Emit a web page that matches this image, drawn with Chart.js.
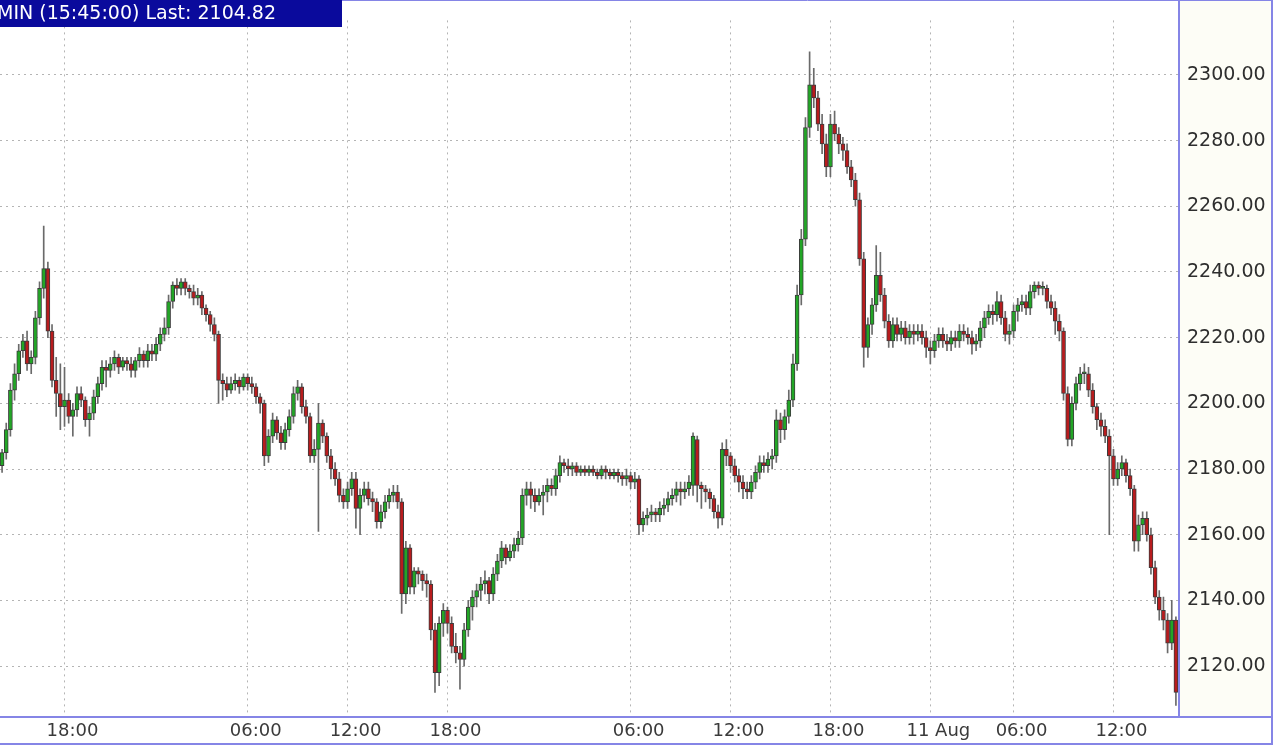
<!DOCTYPE html>
<html>
<head>
<meta charset="utf-8">
<script src="https://cdn.jsdelivr.net/npm/chart.js@4.4.0/dist/chart.umd.min.js"></script>
<style>
html, body { margin: 0; padding: 0; background: #fff; }
canvas { display: block; }
</style>
</head>
<body>
<canvas id="candles" width="1280" height="745"></canvas>
<script>
// 15 minute bars, 14:15 first day .. 15:45 last day
const opens = [
  2181, 2185, 2192, 2204, 2209, 2216, 2219, 2212, 2214, 2226,
  2235, 2241, 2222, 2207, 2203, 2199, 2201, 2196, 2198, 2203,
  2201, 2195, 2197, 2202, 2206, 2211, 2210, 2212, 2214, 2211,
  2213, 2212, 2210, 2213, 2215, 2213, 2216, 2215, 2218, 2221,
  2223, 2231, 2236, 2235, 2237, 2235, 2234, 2232, 2233, 2229,
  2227, 2224, 2221, 2207, 2206, 2204, 2206, 2207, 2205, 2208,
  2206, 2205, 2202, 2200, 2184, 2190, 2195, 2191, 2188, 2192,
  2196, 2203, 2205, 2199, 2196, 2184, 2186, 2194, 2190, 2184,
  2180, 2177, 2172, 2170, 2174, 2177, 2168, 2172, 2174, 2171,
  2170, 2164, 2167, 2170, 2172, 2173, 2170, 2142, 2156, 2144,
  2149, 2148, 2146, 2145, 2131, 2118, 2133, 2137, 2133, 2126,
  2124, 2122, 2131, 2138, 2141, 2143, 2145, 2146, 2142, 2148,
  2152, 2156, 2153, 2155, 2157, 2159, 2172, 2174, 2172, 2170,
  2172, 2173, 2175, 2174, 2178, 2182, 2181, 2180, 2181, 2179,
  2180, 2179, 2180, 2179, 2178, 2180, 2179, 2178, 2179, 2178,
  2177, 2178, 2176, 2177, 2163, 2165, 2166, 2167, 2166, 2168,
  2169, 2171, 2172, 2174, 2173, 2174, 2175, 2189, 2175, 2174,
  2173, 2171, 2167, 2165, 2186, 2184, 2181, 2178, 2176, 2174,
  2173, 2176, 2179, 2182, 2181, 2183, 2184, 2195, 2192, 2196,
  2201, 2212, 2233, 2250, 2284, 2297, 2293, 2285, 2279, 2272,
  2285, 2282, 2279, 2277, 2272, 2268, 2262, 2244, 2217, 2224,
  2230, 2239, 2233, 2225, 2219, 2224, 2221, 2223, 2220, 2222,
  2221, 2222, 2220, 2217, 2216, 2219, 2221, 2219, 2218, 2220,
  2219, 2222, 2221, 2220, 2218, 2219, 2223, 2226, 2228, 2227,
  2231, 2226, 2221, 2222, 2228, 2230, 2231, 2229, 2234, 2236,
  2235, 2235, 2231, 2229, 2225, 2222, 2203, 2189, 2200, 2206,
  2209, 2209, 2204, 2199, 2195, 2193, 2190, 2184, 2177, 2180,
  2182, 2178, 2174, 2158, 2163, 2165, 2160, 2150, 2141, 2137,
  2134, 2127, 2134
]
const highs = [
  2186, 2194, 2206, 2212, 2218, 2221, 2222, 2216, 2228, 2237,
  2254, 2243, 2224, 2214, 2212, 2211, 2203, 2200, 2205, 2205,
  2202, 2199, 2204, 2208, 2213, 2213, 2214, 2216, 2215, 2214,
  2214, 2214, 2214, 2217, 2216, 2218, 2218, 2220, 2223, 2226,
  2233, 2237, 2238, 2238, 2238, 2236, 2236, 2235, 2234, 2230,
  2228, 2226, 2222, 2209, 2208, 2208, 2209, 2208, 2209, 2209,
  2208, 2206, 2203, 2201, 2192, 2197, 2196, 2193, 2194, 2198,
  2205, 2207, 2206, 2201, 2197, 2189, 2200, 2195, 2191, 2186,
  2182, 2179, 2174, 2176, 2179, 2179, 2174, 2176, 2176, 2173,
  2171, 2169, 2172, 2174, 2175, 2175, 2171, 2158, 2157, 2150,
  2150, 2149, 2148, 2146, 2133, 2135, 2139, 2138, 2135, 2130,
  2126, 2133, 2140, 2143, 2145, 2147, 2149, 2147, 2150, 2154,
  2158, 2157, 2157, 2159, 2161, 2174, 2176, 2176, 2174, 2174,
  2175, 2177, 2177, 2180, 2184, 2183, 2183, 2182, 2182, 2181,
  2181, 2181, 2181, 2180, 2181, 2181, 2180, 2180, 2180, 2179,
  2180, 2179, 2179, 2178, 2167, 2168, 2169, 2168, 2170, 2171,
  2173, 2174, 2176, 2176, 2176, 2178, 2191, 2190, 2176, 2175,
  2174, 2172, 2169, 2188, 2189, 2185, 2183, 2180, 2178, 2176,
  2178, 2181, 2184, 2184, 2185, 2186, 2198, 2197, 2198, 2204,
  2215, 2236, 2253, 2287, 2307, 2302, 2295, 2288, 2282, 2288,
  2289, 2284, 2281, 2279, 2274, 2270, 2264, 2246, 2226, 2232,
  2248, 2246, 2235, 2227, 2226, 2226, 2225, 2225, 2224, 2224,
  2224, 2224, 2222, 2219, 2221, 2223, 2223, 2221, 2222, 2222,
  2224, 2224, 2223, 2222, 2221, 2225, 2228, 2230, 2230, 2234,
  2233, 2228, 2224, 2230, 2232, 2233, 2233, 2236, 2237, 2237,
  2237, 2236, 2233, 2231, 2227, 2223, 2205, 2202, 2208, 2211,
  2212, 2211, 2206, 2200, 2197, 2195, 2192, 2186, 2182, 2184,
  2183, 2180, 2175, 2166, 2167, 2167, 2162, 2152, 2143, 2141,
  2136, 2140, 2135
]
const lows = [
  2179, 2183, 2190, 2201, 2207, 2214, 2210, 2209, 2212, 2224,
  2232, 2220, 2205, 2196, 2192, 2193, 2194, 2190, 2196, 2199,
  2193, 2190, 2195, 2200, 2204, 2205, 2208, 2210, 2209, 2210,
  2210, 2208, 2208, 2211, 2211, 2211, 2213, 2213, 2216, 2219,
  2221, 2229, 2233, 2233, 2233, 2232, 2230, 2230, 2227, 2225,
  2222, 2219, 2200, 2201, 2202, 2203, 2204, 2203, 2204, 2204,
  2203, 2200, 2197, 2181, 2182, 2188, 2189, 2186, 2186, 2190,
  2194, 2201, 2197, 2194, 2182, 2182, 2161, 2188, 2182, 2177,
  2175, 2170, 2168, 2168, 2172, 2162, 2160, 2170, 2169, 2167,
  2162, 2162, 2165, 2168, 2170, 2168, 2136, 2139, 2142, 2142,
  2145, 2143, 2141, 2128, 2112, 2114, 2129, 2130, 2124, 2121,
  2113, 2120, 2129, 2134, 2138, 2140, 2142, 2139, 2140, 2146,
  2150, 2151, 2152, 2153, 2155, 2157, 2169, 2168, 2167, 2169,
  2166, 2170, 2172, 2172, 2176, 2179, 2178, 2178, 2178, 2178,
  2178, 2178, 2178, 2177, 2177, 2177, 2177, 2177, 2176, 2175,
  2175, 2174, 2174, 2160, 2161, 2163, 2164, 2164, 2164, 2166,
  2167, 2169, 2170, 2169, 2171, 2172, 2172, 2170, 2168, 2170,
  2168, 2165, 2162, 2163, 2181, 2179, 2176, 2173, 2171, 2171,
  2171, 2174, 2177, 2179, 2179, 2180, 2182, 2188, 2189, 2194,
  2199, 2210, 2230, 2248, 2281, 2290, 2283, 2276, 2269, 2269,
  2280, 2276, 2274, 2270, 2266, 2260, 2242, 2211, 2214, 2221,
  2228, 2231, 2223, 2217, 2217, 2219, 2219, 2218, 2218, 2218,
  2219, 2218, 2214, 2212, 2214, 2217, 2217, 2216, 2216, 2217,
  2217, 2219, 2218, 2215, 2216, 2217, 2220, 2224, 2224, 2225,
  2224, 2219, 2218, 2220, 2225, 2228, 2227, 2227, 2232, 2233,
  2233, 2229, 2227, 2221, 2219, 2201, 2187, 2187, 2198, 2204,
  2206, 2202, 2197, 2192, 2190, 2188, 2160, 2175, 2175, 2178,
  2176, 2172, 2155, 2155, 2160, 2158, 2148, 2139, 2134, 2131,
  2124, 2125, 2108
]
const closes = [
  2185, 2192, 2204, 2209, 2216, 2219, 2212, 2214, 2226, 2235,
  2241, 2222, 2207, 2203, 2199, 2201, 2196, 2198, 2203, 2201,
  2195, 2197, 2202, 2206, 2211, 2210, 2212, 2214, 2211, 2213,
  2212, 2210, 2213, 2215, 2213, 2216, 2215, 2218, 2221, 2223,
  2231, 2236, 2235, 2237, 2235, 2234, 2232, 2233, 2229, 2227,
  2224, 2221, 2207, 2206, 2204, 2206, 2207, 2205, 2208, 2206,
  2205, 2202, 2200, 2184, 2190, 2195, 2191, 2188, 2192, 2196,
  2203, 2205, 2199, 2196, 2184, 2186, 2194, 2190, 2184, 2180,
  2177, 2172, 2170, 2174, 2177, 2168, 2172, 2174, 2171, 2170,
  2164, 2167, 2170, 2172, 2173, 2170, 2142, 2156, 2144, 2149,
  2148, 2146, 2145, 2131, 2118, 2133, 2137, 2133, 2126, 2124,
  2122, 2131, 2138, 2141, 2143, 2145, 2146, 2142, 2148, 2152,
  2156, 2153, 2155, 2157, 2159, 2172, 2174, 2172, 2170, 2172,
  2173, 2175, 2174, 2178, 2182, 2181, 2180, 2181, 2179, 2180,
  2179, 2180, 2179, 2178, 2180, 2179, 2178, 2179, 2178, 2177,
  2178, 2176, 2177, 2163, 2165, 2166, 2167, 2166, 2168, 2169,
  2171, 2172, 2174, 2173, 2174, 2176, 2190, 2175, 2174, 2173,
  2171, 2167, 2165, 2186, 2184, 2181, 2178, 2176, 2174, 2173,
  2176, 2179, 2182, 2181, 2183, 2184, 2195, 2192, 2196, 2201,
  2212, 2233, 2250, 2284, 2297, 2293, 2285, 2279, 2272, 2285,
  2282, 2279, 2277, 2272, 2268, 2262, 2244, 2217, 2224, 2230,
  2239, 2233, 2225, 2219, 2224, 2221, 2223, 2220, 2222, 2221,
  2222, 2220, 2217, 2216, 2219, 2221, 2219, 2218, 2220, 2219,
  2222, 2221, 2220, 2218, 2219, 2223, 2226, 2228, 2227, 2231,
  2226, 2221, 2222, 2228, 2230, 2231, 2229, 2234, 2236, 2235,
  2235, 2231, 2229, 2225, 2222, 2203, 2189, 2200, 2206, 2209,
  2209, 2204, 2199, 2195, 2193, 2190, 2184, 2177, 2180, 2182,
  2178, 2174, 2158, 2163, 2165, 2160, 2150, 2141, 2137, 2134,
  2127, 2134, 2112
]

// which bars get a time label
const tickIdx = [15, 59, 83, 107, 151, 175, 199, 223, 243, 267]
const tickText = ['18:00', '06:00', '12:00', '18:00', '06:00', '12:00', '18:00', '11 Aug', '06:00', '12:00']
const priceTicks = [2120, 2140, 2160, 2180, 2200, 2220, 2240, 2260, 2280, 2300]
const titleText = 'MIN (15:45:00) Last: 2104.82'

const bars = closes.map((c, i) => i)
const bodyColors = closes.map((c, i) => c >= opens[i] ? '#22a626' : '#b81c1e')

const frame = {
    id: 'frame',
    beforeDraw(chart) {
        const ctx = chart.ctx
        const a = chart.chartArea
        ctx.save()
        ctx.fillStyle = '#ffffff'
        ctx.fillRect(0, 0, chart.width, chart.height)
        ctx.fillStyle = '#fdfdf6'
        ctx.fillRect(a.right, 0, 1272 - a.right, a.bottom)
        ctx.restore()
    },
    afterDraw(chart) {
        const ctx = chart.ctx
        const a = chart.chartArea
        ctx.save()
        ctx.strokeStyle = '#8585e6'
        ctx.lineWidth = 2
        ctx.beginPath()
        ctx.moveTo(a.right + 1, 0); ctx.lineTo(a.right + 1, a.bottom + 1)
        ctx.moveTo(0, a.bottom + 1); ctx.lineTo(1273, a.bottom + 1)
        ctx.moveTo(1272, 0); ctx.lineTo(1272, 745)
        ctx.moveTo(0, 744); ctx.lineTo(1273, 744)
        ctx.stroke()
        ctx.lineWidth = 1
        ctx.beginPath()
        ctx.moveTo(342, 0.5); ctx.lineTo(1273, 0.5)
        ctx.stroke()

        // title box
        ctx.fillStyle = '#0a0a9c'
        ctx.fillRect(0, 0, 342, 27)
        ctx.fillStyle = '#ffffff'
        ctx.font = '19px "DejaVu Sans"'
        ctx.textBaseline = 'middle'
        ctx.fillText(titleText, -3, 14)
        ctx.restore()
    }
}

new Chart(document.getElementById('candles'), {
    type: 'bar',
    data: {
        labels: bars,
        datasets: [{
            label: 'body',
            data: closes.map((c, i) => [opens[i], c]),
            backgroundColor: bodyColors,
            borderColor: '#3c3c3c',
            borderWidth: 1,
            borderSkipped: false,
            barThickness: 4,
            minBarLength: 2,
            grouped: false,
            order: 1
        }, {
            label: 'wick',
            data: lows.map((l, i) => [l, highs[i]]),
            backgroundColor: '#6a6a6a',
            barThickness: 1,
            grouped: false,
            order: 2
        }]
    },
    options: {
        responsive: false,
        animation: false,
        devicePixelRatio: 1,
        layout: { padding: { left: 0, top: 0, right: 8, bottom: 2 } },
        plugins: {
            legend: { display: false },
            tooltip: { enabled: false }
        },
        scales: {
            x: {
                grid: { color: '#b4b4b4', offset: false, drawTicks: false },
                border: { display: false, dash: [2, 4] },
                afterBuildTicks: s => { s.ticks = tickIdx.map(v => ({ value: v })) },
                afterFit: s => { s.height = 27 },
                ticks: {
                    autoSkip: false,
                    maxRotation: 0,
                    labelOffset: 8,
                    padding: 5,
                    color: '#3a3a3a',
                    font: { family: 'DejaVu Sans', size: 18 },
                    callback: v => tickText[tickIdx.indexOf(v)]
                }
            },
            y: {
                position: 'right',
                min: 2104.8,
                max: 2316.6,
                grid: { color: '#b4b4b4', drawTicks: false },
                border: { display: false, dash: [2, 4] },
                afterBuildTicks: s => { s.ticks = priceTicks.map(v => ({ value: v })) },
                afterFit: s => { s.width = 94 },
                ticks: {
                    padding: 9,
                    color: '#2e2e2e',
                    font: { family: 'DejaVu Sans', size: 19 },
                    callback: v => v.toFixed(2)
                }
            }
        }
    },
    plugins: [frame]
})
</script>
</body>
</html>
